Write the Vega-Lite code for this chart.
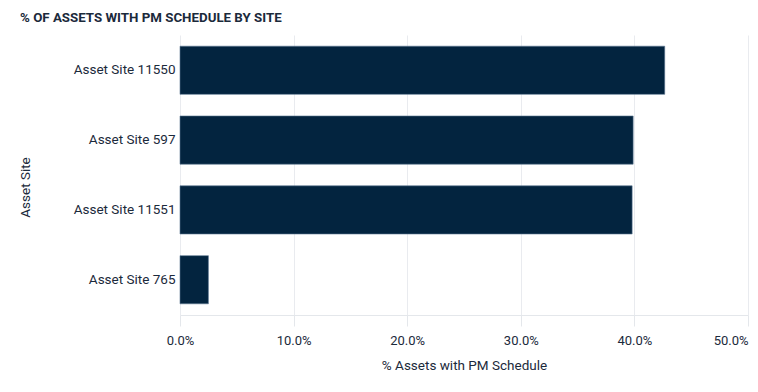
{
  "$schema": "https://vega.github.io/schema/vega-lite/v6.json",
  "autosize": {"type": "none"},
  "width": 568,
  "height": 280,
  "padding": {"left": 180, "top": 35, "right": 10, "bottom": 77},
  "background": "white",
  "title": {
    "text": "% OF ASSETS WITH PM SCHEDULE BY SITE",
    "anchor": "start",
    "frame": "group",
    "dx": -160,
    "offset": 0,
    "baseline": "alphabetic",
    "font": "Roboto",
    "fontSize": 13.3,
    "fontWeight": "bold",
    "color": "#1b2a3b"
  },
  "data": {
    "values": [
      {"site": "Asset Site 11550", "pct": 0.4267},
      {"site": "Asset Site 597", "pct": 0.3989},
      {"site": "Asset Site 11551", "pct": 0.398},
      {"site": "Asset Site 765", "pct": 0.025}
    ]
  },
  "mark": {"type": "bar", "color": "#03243f", "stroke": "#5b7590", "strokeWidth": 0.6},
  "encoding": {
    "y": {
      "field": "site",
      "type": "nominal",
      "sort": null,
      "scale": {"paddingInner": 0.31, "paddingOuter": 0.16},
      "axis": {
        "title": "Asset Site",
        "titleX": -155,
        "titleY": 152,
        "titleAngle": -90,
        "titleBaseline": "middle",
        "titleAlign": "center",
        "titleFont": "Roboto",
        "titleFontSize": 13.5,
        "titleFontWeight": "normal",
        "titleColor": "#1b2a3b",
        "labelFont": "Roboto",
        "labelFontSize": 13.5,
        "labelColor": "#1b2a3b",
        "labelPadding": 5,
        "ticks": false,
        "domain": false
      }
    },
    "x": {
      "field": "pct",
      "type": "quantitative",
      "scale": {"domain": [0, 0.5], "nice": false},
      "axis": {
        "title": "% Assets with PM Schedule",
        "format": ".1%",
        "values": [0, 0.1, 0.2, 0.3, 0.4, 0.5],
        "titleFont": "Roboto",
        "titleFontSize": 13.5,
        "titleFontWeight": "normal",
        "titleColor": "#1b2a3b",
        "titlePadding": 11,
        "labelFont": "Roboto",
        "labelFontSize": 13,
        "labelColor": "#1b2a3b",
        "labelPadding": 8,
        "labelAlign": {"expr": "datum.value >= 0.5 ? 'right' : 'center'"},
        "tickSize": 11,
        "tickColor": "#e4e7eb",
        "domainColor": "#e4e7eb",
        "gridColor": "#e9ebef",
        "grid": true
      }
    }
  },
  "config": {"view": {"stroke": null}}
}
